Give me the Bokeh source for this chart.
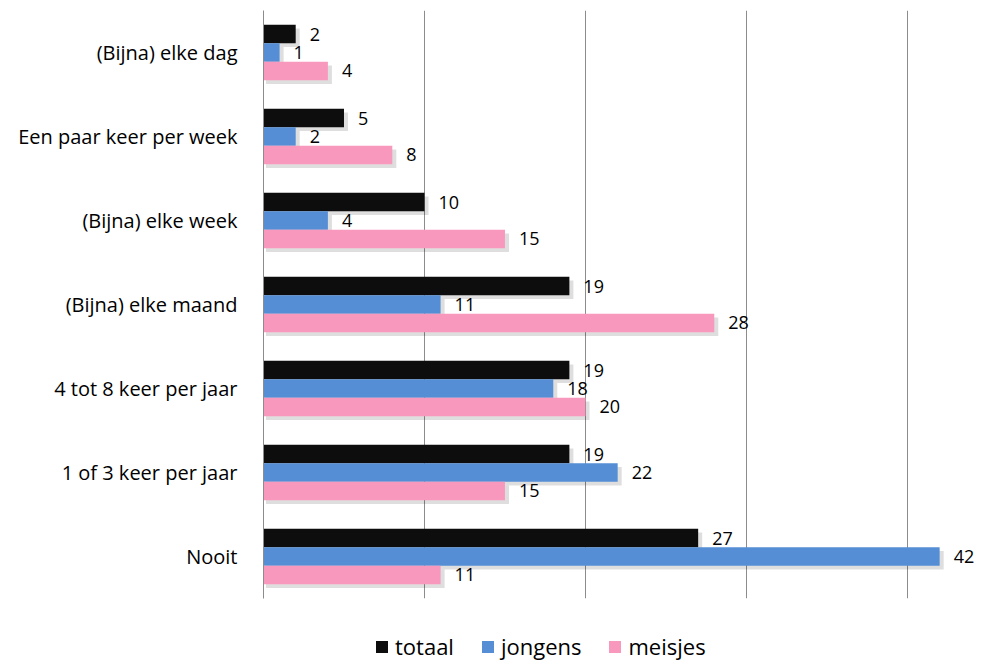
from bokeh.plotting import figure
from bokeh.models import ColumnDataSource, FactorRange, Range1d, FixedTicker, Legend, LegendItem
from bokeh.layouts import column
from bokeh.transform import dodge
from bokeh.core.properties import value
from bokeh.embed import file_html
from bokeh.resources import INLINE

categories = ["(Bijna) elke dag", "Een paar keer per week", "(Bijna) elke week",
              "(Bijna) elke maand", "4 tot 8 keer per jaar", "1 of 3 keer per jaar", "Nooit"]
totaal = [2, 5, 10, 19, 19, 19, 27]
jongens = [1, 2, 4, 11, 18, 22, 42]
meisjes = [4, 8, 15, 28, 20, 15, 11]
series_names = ["totaal", "jongens", "meisjes"]
grid_ticks = [10, 20, 30, 40]

colors = ["#0D0D0D", "#558ED5", "#F998BD"]
FONT = "Open Sans"

src = ColumnDataSource(dict(
    cat=categories,
    totaal=totaal, jongens=jongens, meisjes=meisjes,
    totaal_s=[v + 0.25 for v in totaal],
    jongens_s=[v + 0.25 for v in jongens],
    meisjes_s=[v + 0.25 for v in meisjes],
    totaal_t=[str(v) for v in totaal],
    jongens_t=[str(v) for v in jongens],
    meisjes_t=[str(v) for v in meisjes],
))

p = figure(width=981, height=600, output_backend="svg", toolbar_location=None,
           y_range=FactorRange(*reversed(categories)), x_range=Range1d(0, 44.6),
           min_border_left=263, min_border_right=0, min_border_top=10, min_border_bottom=2)
p.outline_line_color = None
p.background_fill_color = "white"
p.border_fill_color = "white"

offsets = [0.22, 0.0, -0.22]
bh = 0.22

# soft shadows
for name, off in zip(series_names, offsets):
    p.hbar(y=dodge("cat", off - 0.045, range=p.y_range), left=0.15, right=name + "_s",
           height=bh, source=src, fill_color="#000000", fill_alpha=0.13, line_color=None)

for name, off, c in zip(series_names, offsets, colors):
    p.hbar(y=dodge("cat", off, range=p.y_range), left=0, right=name, height=bh,
           source=src, fill_color=c, line_color=None)
    p.text(x=name, y=dodge("cat", off, range=p.y_range), text=name + "_t", source=src,
           x_offset=14, text_baseline="middle", text_align="left",
           text_font=value(FONT), text_font_size="18px", text_color="#000000")

p.xaxis.visible = False
p.xgrid.ticker = FixedTicker(ticks=grid_ticks)
p.xgrid.grid_line_color = "#8C8C8C"
p.ygrid.grid_line_color = None

ax = p.yaxis[0]
ax.axis_line_color = "#8C8C8C"
ax.major_tick_line_color = None
ax.minor_tick_line_color = None
ax.major_label_standoff = 20
ax.major_label_text_font = FONT
ax.major_label_text_font_size = "20px"
ax.major_label_text_color = "#000000"

# legend strip below the chart (frame aligned with the chart's frame)
lf = figure(width=981, height=61, output_backend="svg", toolbar_location=None,
            x_range=Range1d(0, 1), y_range=Range1d(0, 1),
            min_border_left=0, min_border_right=0, min_border_top=0, min_border_bottom=0)
lf.axis.visible = False
lf.grid.visible = False
lf.outline_line_color = None
nan = float("nan")
keys = ColumnDataSource(dict(y=[nan], right=[nan]))
legend_renderers = [lf.hbar(y="y", right="right", height=0.5, source=keys,
                            fill_color=c, line_color=None) for c in colors]

legend = Legend(items=[LegendItem(label=n, renderers=[r]) for n, r in zip(series_names, legend_renderers)],
                orientation="horizontal", location=(111, 0))
legend.padding = 0
legend.margin = 0
legend.spacing = 26
legend.border_line_color = None
legend.background_fill_alpha = 0
legend.glyph_width = 15
legend.glyph_height = 15
legend.label_standoff = 6
legend.label_text_font = FONT
legend.label_text_font_size = "22px"
legend.label_text_color = "#000000"
lf.add_layout(legend, "center")

layout = column(p, lf, spacing=0)
open("out.html", "w").write(file_html(layout, INLINE))
